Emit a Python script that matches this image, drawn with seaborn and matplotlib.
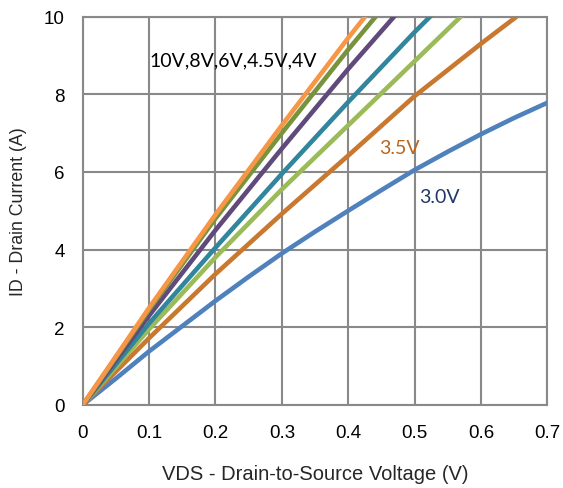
import matplotlib
matplotlib.use("Agg")
import matplotlib.pyplot as plt
import pandas as pd
import seaborn as sns

# Output characteristics: ID vs VDS for several gate voltages
vds = [0.0, 0.1, 0.2, 0.3, 0.4, 0.5, 0.6, 0.7]
vds_fine = [0.0, 0.05, 0.1, 0.15, 0.2, 0.25, 0.3, 0.35,
            0.4, 0.45, 0.5, 0.55, 0.6, 0.65, 0.7]

id_10v = [0.0, 2.50, 4.90, 7.20, 9.45, 11.6, 13.7, 15.7]
id_8v = [0.0, 2.45, 4.80, 7.00, 9.15, 11.2, 13.2, 15.1]
id_6v = [0.0, 2.30, 4.50, 6.60, 8.65, 10.6, 12.5, 14.3]
id_45v = [0.0, 2.10, 4.05, 5.95, 7.80, 9.60, 11.3, 13.0]
id_4v = [0.0, 1.95, 3.80, 5.55, 7.20, 8.85, 10.5, 12.0]
id_35v = [0.0, 1.72, 3.37, 4.92, 6.42, 7.95, 9.30, 10.6]
id_30v = [0.0, 0.68, 1.38, 2.03, 2.68, 3.30, 3.90, 4.46,
          5.00, 5.53, 6.05, 6.52, 6.97, 7.39, 7.78]

series = {
    "3.0V": (vds_fine, id_30v),
    "3.5V": (vds, id_35v),
    "4V": (vds, id_4v),
    "4.5V": (vds, id_45v),
    "6V": (vds, id_6v),
    "8V": (vds, id_8v),
    "10V": (vds, id_10v),
}

colors = {
    "3.0V": "#4F81BD",
    "3.5V": "#C8782F",
    "4V": "#9BBB59",
    "4.5V": "#31859C",
    "6V": "#604A7B",
    "8V": "#77933C",
    "10V": "#F79646",
}

rows = []
for vgs, (xs, ids) in series.items():
    for v, i in zip(xs, ids):
        rows.append({"VDS": v, "ID": i, "VGS": vgs})
df = pd.DataFrame(rows)

sns.set_style("white")
plt.rcParams["font.family"] = ["Liberation Sans", "DejaVu Sans"]

fig = plt.figure(figsize=(5.63, 4.89), dpi=100)
ax = fig.add_axes([0.147, 0.170, 0.825, 0.794])

sns.lineplot(data=df, x="VDS", y="ID", hue="VGS", palette=colors,
             hue_order=list(series.keys()), linewidth=3.3, legend=False,
             ax=ax, zorder=3)

ax.set_xlim(0, 0.7)
ax.set_ylim(0, 10)
ax.set_xticks([0, 0.1, 0.2, 0.3, 0.4, 0.5, 0.6, 0.7])
ax.set_xticklabels(["0", "0.1", "0.2", "0.3", "0.4", "0.5", "0.6", "0.7"])
ax.set_yticks([0, 2, 4, 6, 8, 10])
ax.grid(True, color="#898989", linewidth=1.5)
for s in ax.spines.values():
    s.set_color("#898989")
    s.set_linewidth(1.5)
ax.tick_params(length=0, labelsize=13.5, colors="black")
ax.tick_params(axis="x", pad=14)
ax.tick_params(axis="y", pad=13)

ax.set_xlabel("VDS - Drain-to-Source Voltage (V)", fontsize=14.5, labelpad=16)
ax.set_ylabel("ID - Drain Current (A)", fontsize=12.8, labelpad=12)

lbl_font = ["Lato", "DejaVu Sans"]
ax.text(0.101, 8.88, "10V,8V,6V,4.5V,4V", fontsize=14, family=lbl_font,
        va="center", ha="left", color="black")
ax.text(0.447, 6.64, "3.5V", fontsize=14, family=lbl_font,
        va="center", ha="left", color="#B8651F")
ax.text(0.507, 5.37, "3.0V", fontsize=14, family=lbl_font,
        va="center", ha="left", color="#1F3864")

fig.savefig("out.png", dpi=100)
